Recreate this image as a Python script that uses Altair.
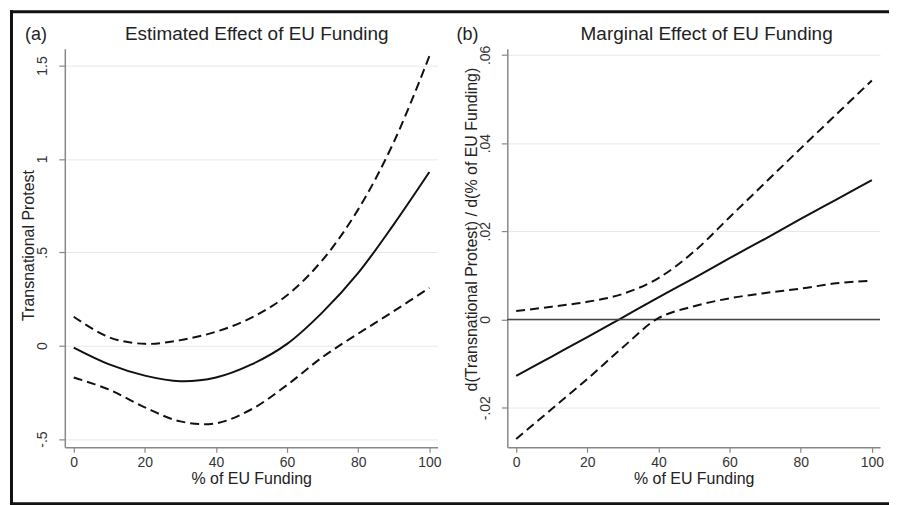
import altair as alt
import pandas as pd

# ---------------- data ----------------
X_A = [0, 10, 20, 30, 40, 50, 60, 70, 80, 90, 100]
EST_A = [-0.01, -0.10, -0.16, -0.19, -0.17, -0.10, 0.01, 0.18, 0.39, 0.65, 0.93]
HI_A = [0.155, 0.045, 0.01, 0.03, 0.075, 0.15, 0.27, 0.46, 0.73, 1.09, 1.55]
LO_A = [-0.17, -0.235, -0.33, -0.405, -0.415, -0.34, -0.21, -0.06, 0.065, 0.185, 0.31]

X_B = [0, 10, 20, 30, 40, 50, 60, 70, 80, 90, 100]
EST_B = [-0.0128, -0.0084, -0.0040, 0.0005, 0.0050, 0.0094, 0.0139, 0.0183, 0.0228, 0.0272, 0.0316]
HI_B = [0.0019, 0.0029, 0.0040, 0.0058, 0.0094, 0.0154, 0.0232, 0.0310, 0.0388, 0.0465, 0.0542]
LO_B = [-0.0271, -0.0203, -0.0135, -0.0063, 0.0003, 0.0030, 0.0048, 0.0060, 0.0070, 0.0082, 0.0088]

X_TICKS = [0, 20, 40, 60, 80, 100]
Y_TICKS_A = [-0.5, 0, 0.5, 1, 1.5]
Y_LABELS_A = ["-.5", "0", ".5", "1", "1.5"]
Y_TICKS_B = [-0.02, 0, 0.02, 0.04, 0.06]
Y_LABELS_B = ["-.02", "0", ".02", ".04", ".06"]

TITLE_A = "Estimated Effect of EU Funding"
TITLE_B = "Marginal Effect of EU Funding"
YTITLE_A = "Transnational Protest"
YTITLE_B = "d(Transnational Protest) / d(% of EU Funding)"
XTITLE = "% of EU Funding"

FONT = "Liberation Sans"
W, H = 374, 400
X_DOMAIN = [-2.5, 102.3]


def label_expr(vals, labs):
    parts = [f"datum.value == {v} ? '{l}' : " for v, l in zip(vals, labs)]
    return "".join(parts) + "''"


def panel(xs, est, hi, lo, ydom, yticks, ylabs, ytitle, ytitle_y,
          title, title_x, tag, tag_x, zero=False, border=False):
    df = pd.DataFrame({"x": xs, "est": est, "hi": hi, "lo": lo})
    xenc = alt.X("x:Q", scale=alt.Scale(domain=X_DOMAIN, nice=False, zero=False),
                 axis=alt.Axis(values=X_TICKS, title=XTITLE, grid=False,
                               tickSize=5, labelPadding=3, labelFontSize=14,
                               labelColor="#333", titleFontSize=16,
                               titleFontWeight="normal", titleColor="#222",
                               titleY=23, domainColor="#888", domainWidth=1.5,
                               tickColor="#888", tickWidth=1.2))
    yaxis = alt.Axis(values=yticks, labelExpr=label_expr(yticks, ylabs),
                     labelAngle=-90, tickSize=6, labelPadding=9,
                     labelFontSize=14, labelColor="#333",
                     title=ytitle, titleFontSize=16, titleFontWeight="normal",
                     titleColor="#222", titleX=-28, titleY=ytitle_y,
                     domainColor="#888", domainWidth=1.5, tickColor="#888",
                     tickWidth=1.2, grid=True, gridColor="#e8e8e8", gridWidth=1)
    yscale = alt.Scale(domain=ydom, nice=False, zero=False)
    base = alt.Chart(df)
    est_line = base.mark_line(color="#111", strokeWidth=2, interpolate="catmull-rom").encode(
        x=xenc, y=alt.Y("est:Q", scale=yscale, axis=yaxis))
    hi_line = base.mark_line(color="#111", strokeWidth=2, strokeDash=[9, 5],
                             interpolate="catmull-rom").encode(x="x:Q", y="hi:Q")
    lo_line = base.mark_line(color="#111", strokeWidth=2, strokeDash=[9, 5],
                             interpolate="catmull-rom").encode(x="x:Q", y="lo:Q")
    layers = [est_line]
    if zero:
        zr = alt.Chart(pd.DataFrame({"z": [0]})).mark_rule(
            color="#444", strokeWidth=1.5).encode(y="z:Q")
        layers.append(zr)
    layers += [hi_line, lo_line]
    txt = pd.DataFrame({"t": [0]})
    layers.append(alt.Chart(txt).mark_text(
        text=title, font=FONT, fontSize=19, color="#222", align="center",
        baseline="alphabetic").encode(x=alt.value(title_x), y=alt.value(-9)))
    layers.append(alt.Chart(txt).mark_text(
        text=tag, font=FONT, fontSize=18, color="#222", align="center",
        baseline="alphabetic").encode(x=alt.value(tag_x), y=alt.value(-9)))
    if border:
        L, T, R, B = -55, -38.5, 827, 458
        layers.append(alt.Chart(txt).mark_rule(color="#111", strokeWidth=3).encode(
            x=alt.value(L + 1.5), y=alt.value(T), y2=alt.value(B)))
        layers.append(alt.Chart(txt).mark_rule(color="#111", strokeWidth=3).encode(
            x=alt.value(L), x2=alt.value(R), y=alt.value(T + 1.5)))
        layers.append(alt.Chart(txt).mark_rule(color="#111", strokeWidth=3).encode(
            x=alt.value(L), x2=alt.value(R), y=alt.value(B - 1.5)))
    return alt.layer(*layers).properties(width=W, height=H)


pa = panel(X_A, EST_A, HI_A, LO_A, [-0.544, 1.59], Y_TICKS_A, Y_LABELS_A,
           YTITLE_A, 197, TITLE_A, 192.6, "(a)", -29, border=True)
pb = panel(X_B, EST_B, HI_B, LO_B, [-0.029, 0.0614], Y_TICKS_B, Y_LABELS_B,
           YTITLE_B, 181, TITLE_B, 200, "(b)", -40, zero=True)

chart = alt.hconcat(pa, pb, spacing=70, bounds="flush").properties(
    padding=0, background="white"
).configure(font=FONT).configure_view(strokeWidth=0)

chart.save("out.html", embed_options={"renderer": "svg", "actions": False})
